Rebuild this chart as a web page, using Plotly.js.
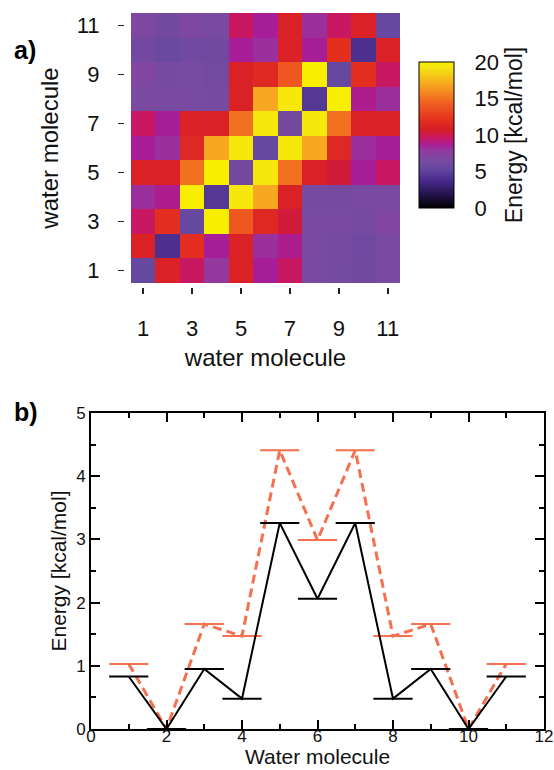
<!DOCTYPE html>
<html>
<head>
<meta charset="utf-8">
<script src="https://cdn.plot.ly/plotly-3.0.1.min.js"></script>
<style>html,body{margin:0;padding:0;background:#fff;}#chart{width:554px;height:770px;}</style>
</head>
<body>
<div id="chart"></div>
<script>
// Panel a: pair interaction energies (kcal/mol), rows = water molecule 1..11 (bottom to top)
const molecules = [1,2,3,4,5,6,7,8,9,10,11];
const energyMatrix = [
  [5.5, 11, 9.7, 8, 11, 8.6, 9.7, 6.5, 6.3, 6.2, 6.6],
  [11, 4, 12, 8.6, 11, 8.2, 8.8, 6.5, 6.4, 6.1, 6.6],
  [9.7, 12, 5.5, 20, 14, 11.5, 10.3, 6.5, 6.5, 6.4, 6.9],
  [8.2, 8.8, 20, 4.5, 19.5, 17, 11, 6.4, 6.4, 6.5, 6.5],
  [11, 11, 15, 20, 6.2, 19.5, 15, 11, 10.3, 8.6, 9.7],
  [8.6, 8.2, 11.5, 17, 19.5, 5.5, 19.5, 17, 11.5, 8.2, 8.6],
  [9.7, 8.6, 11, 11, 15, 19.5, 6.2, 19.5, 15, 11, 11],
  [6.6, 6.5, 6.5, 6.4, 11, 17, 19.5, 4.5, 20, 8.8, 8.2],
  [6.9, 6.4, 6.5, 6.3, 11, 11.5, 14, 20, 5.5, 12, 9.7],
  [6.2, 5.7, 6.1, 6.2, 8.6, 8.2, 11, 8.6, 12, 4, 11],
  [6.8, 6.2, 6.8, 6.5, 9.7, 8.6, 11, 8.2, 9.7, 11, 5.5]
];
const heatTicks = [1,3,5,7,9,11];
const cbTicks = [0,5,10,15,20];

// Panel b
const xWater = [1,2,3,4,5,6,7,8,9,10,11];
const energyBlack = [0.83, 0.0, 0.95, 0.48, 3.26, 2.06, 3.26, 0.48, 0.95, 0.0, 0.83];
const energyOrange = [1.03, 0.0, 1.66, 1.47, 4.41, 2.99, 4.41, 1.47, 1.66, 0.0, 1.03];

const FONT = '"Liberation Sans", Arial, Helvetica, sans-serif';
const orange = '#f5704f';

const colorscale = [
  [0.0, '#000000'],
  [0.08, '#1e1040'],
  [0.18, '#45288a'],
  [0.27, '#6448a0'],
  [0.33, '#7a4aa0'],
  [0.40, '#94389e'],
  [0.43, '#a81e98'],
  [0.48, '#c81868'],
  [0.53, '#d41c28'],
  [0.60, '#e42e20'],
  [0.72, '#f06020'],
  [0.85, '#f8a820'],
  [0.96, '#f4e410'],
  [1.0, '#f8ee00']
];

const traces = [
  {
    type: 'heatmap',
    x: molecules, y: molecules, z: energyMatrix,
    zmin: 0, zmax: 20,
    colorscale: colorscale,
    xaxis: 'x', yaxis: 'y',
    hoverinfo: 'skip',
    colorbar: {
      x: 419/554, xanchor: 'left',
      y: 1 - 135/770, yanchor: 'middle',
      thickness: 35, thicknessmode: 'pixels',
      len: 146, lenmode: 'pixels',
      outlinewidth: 1, outlinecolor: '#000',
      tickmode: 'array', tickvals: cbTicks,
      ticks: 'outside', ticklen: 16, tickcolor: 'rgba(0,0,0,0)',
      tickfont: {family: FONT, size: 22, color: '#111'},
      title: {text: 'Energy [kcal/mol]', side: 'right', font: {family: FONT, size: 23, color: '#111'}},
      xpad: 0, ypad: 0
    }
  },
  {
    type: 'scatter', mode: 'lines+markers',
    x: xWater, y: energyOrange,
    xaxis: 'x2', yaxis: 'y2',
    line: {color: orange, width: 3, dash: '9px,5px'},
    marker: {symbol: 'line-ew', size: 28, line: {color: orange, width: 2}},
    cliponaxis: false, hoverinfo: 'skip'
  },
  {
    type: 'scatter', mode: 'lines+markers',
    x: xWater, y: energyBlack,
    xaxis: 'x2', yaxis: 'y2',
    line: {color: '#000', width: 2},
    marker: {symbol: 'line-ew', size: 28, line: {color: '#000', width: 2}},
    cliponaxis: false, hoverinfo: 'skip'
  }
];

const layout = {
  width: 554, height: 770,
  margin: {l: 0, r: 0, t: 0, b: 0},
  paper_bgcolor: '#fff', plot_bgcolor: '#fff',
  showlegend: false,
  font: {family: FONT, color: '#111'},
  xaxis: {
    domain: [131/554, 400/554],
    range: [0.5, 11.5],
    anchor: 'free', position: 1 - 287/770,
    tickmode: 'array', tickvals: heatTicks,
    ticks: 'outside', ticklen: 6, tickwidth: 1.5, tickcolor: '#222',
    ticklabelstandoff: 16,
    showline: false, showgrid: false, zeroline: false,
    tickfont: {family: FONT, size: 22, color: '#111'},
    title: {text: 'water molecule', font: {family: FONT, size: 24, color: '#111'}, standoff: 8}
  },
  yaxis: {
    domain: [1 - 283/770, 1 - 13/770],
    range: [0.5, 11.5],
    anchor: 'free', position: 124/554,
    tickmode: 'array', tickvals: heatTicks,
    ticks: 'outside', ticklen: 6, tickwidth: 1.5, tickcolor: '#222',
    ticklabelstandoff: 14,
    showline: false, showgrid: false, zeroline: false,
    tickfont: {family: FONT, size: 22, color: '#111'},
    title: {text: 'water molecule', font: {family: FONT, size: 24, color: '#111'}, standoff: 10}
  },
  xaxis2: {
    domain: [91/554, 544/554],
    anchor: 'y2',
    range: [0, 12], dtick: 2, tick0: 0,
    ticks: 'inside', ticklen: 9, tickwidth: 2, tickcolor: '#000',
    minor: {dtick: 1, ticks: 'inside', ticklen: 5, tickwidth: 2, tickcolor: '#000'},
    showline: true, linewidth: 2, linecolor: '#000', mirror: 'allticks',
    showgrid: false, zeroline: false,
    ticklabelstandoff: -9,
    tickfont: {family: FONT, size: 17, color: '#111'}
  },
  yaxis2: {
    domain: [1 - 729/770, 1 - 413/770],
    anchor: 'x2',
    range: [0, 5], dtick: 1, tick0: 0,
    ticks: 'inside', ticklen: 9, tickwidth: 2, tickcolor: '#000',
    minor: {dtick: 0.5, ticks: 'inside', ticklen: 5, tickwidth: 2, tickcolor: '#000'},
    showline: true, linewidth: 2, linecolor: '#000', mirror: 'allticks',
    showgrid: false, zeroline: false,
    tickfont: {family: FONT, size: 17, color: '#111'},
    title: {text: 'Energy [kcal/mol]', font: {family: FONT, size: 21, color: '#111'}, standoff: 4}
  },
  annotations: [
    {text: '<b>a)</b>', xref: 'paper', yref: 'paper', x: 12/554, y: 1 - 50/770,
     xanchor: 'left', yanchor: 'middle', showarrow: false, font: {family: FONT, size: 25, color: '#000'}},
    {text: '<b>b)</b>', xref: 'paper', yref: 'paper', x: 12/554, y: 1 - 412/770,
     xanchor: 'left', yanchor: 'middle', showarrow: false, font: {family: FONT, size: 25, color: '#000'}},
    {text: 'Water molecule', xref: 'x2 domain', yref: 'paper', x: 0.5, y: 0,
     xanchor: 'center', yanchor: 'bottom', showarrow: false, font: {family: FONT, size: 21, color: '#111'}}
  ]
};

Plotly.newPlot('chart', traces, layout, {displayModeBar: false, staticPlot: true});
</script>
</body>
</html>
